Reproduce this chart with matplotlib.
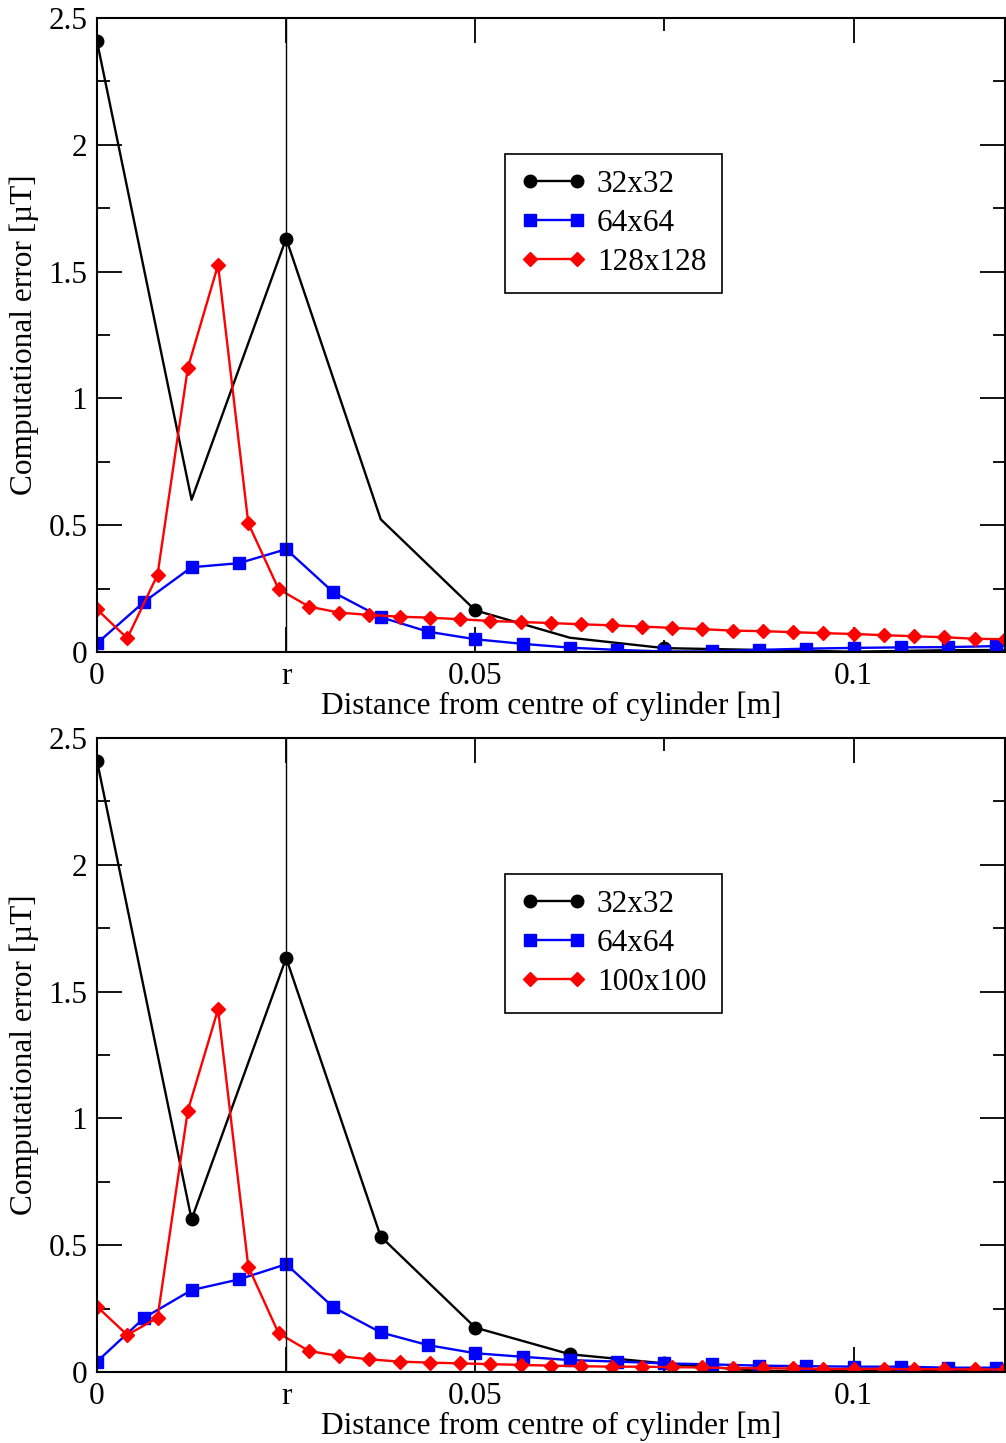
import numpy as np
import matplotlib
matplotlib.use('Agg')
import matplotlib.pyplot as plt
from matplotlib.ticker import MultipleLocator, FixedLocator, FuncFormatter

plt.rcParams['font.family'] = ['Liberation Serif', 'DejaVu Serif']

# 32x32 grid (spacing 0.0125 m)
x32 = [0.0, 0.0125, 0.025, 0.0375, 0.05, 0.0625, 0.075, 0.0875, 0.1, 0.1125, 0.125]
e32_top = [2.408, 0.60, 1.63, 0.523, 0.164, 0.056, 0.015, 0.008, 0.001, 0.007, 0.008]
e32_bot = [2.41, 0.602, 1.632, 0.534, 0.175, 0.070, 0.034, 0.004, 0.005, 0.003, 0.004]

# 64x64 grid (spacing 0.00625 m)
x64 = [0.0, 0.00625, 0.0125, 0.01875, 0.025, 0.03125, 0.0375, 0.04375, 0.05,
       0.05625, 0.0625, 0.06875, 0.075, 0.08125, 0.0875, 0.09375, 0.1,
       0.10625, 0.1125, 0.11875, 0.125]
e64_top = [0.034, 0.198, 0.334, 0.350, 0.405, 0.235, 0.137, 0.080, 0.050,
           0.032, 0.017, 0.008, 0.002, 0.002, 0.008, 0.013, 0.016,
           0.018, 0.019, 0.023, 0.026]
e64_bot = [0.041, 0.214, 0.323, 0.365, 0.425, 0.255, 0.156, 0.106, 0.074,
           0.060, 0.047, 0.041, 0.034, 0.030, 0.025, 0.023, 0.021,
           0.021, 0.017, 0.017, 0.016]

# fine grids (spacing 0.004 m)
xfine = [0.0, 0.004, 0.008, 0.012, 0.016, 0.020, 0.024, 0.028, 0.032, 0.036,
         0.040, 0.044, 0.048, 0.052, 0.056, 0.060, 0.064, 0.068, 0.072, 0.076,
         0.080, 0.084, 0.088, 0.092, 0.096, 0.100, 0.104, 0.108, 0.112, 0.116, 0.120]
e128 = [0.168, 0.054, 0.304, 1.119, 1.526, 0.507, 0.248, 0.179, 0.155, 0.146,
        0.139, 0.135, 0.129, 0.122, 0.118, 0.114, 0.109, 0.105, 0.100, 0.095,
        0.090, 0.084, 0.082, 0.078, 0.074, 0.071, 0.066, 0.062, 0.058, 0.052, 0.050]
e100 = [0.258, 0.146, 0.214, 1.03, 1.43, 0.415, 0.153, 0.083, 0.063, 0.050,
        0.041, 0.037, 0.034, 0.031, 0.028, 0.025, 0.023, 0.021, 0.021, 0.019,
        0.018, 0.015, 0.015, 0.014, 0.012, 0.012, 0.012, 0.011, 0.011, 0.010, 0.010]

r_cyl = 0.025
xtick_vals = [0.0, 0.025, 0.05, 0.1]
xtick_labs = ['0', 'r', '0.05', '0.1']
fs = 22.5

fig = plt.figure(figsize=(10.06, 14.43), dpi=100)
ax1 = fig.add_axes([0.0964, 0.5482, 0.9026, 0.4394])
ax2 = fig.add_axes([0.0964, 0.0492, 0.9026, 0.4394])

panels = [(ax1, e32_top, e64_top, e128, '128x128', 2),
          (ax2, e32_bot, e64_bot, e100, '100x100', 1)]

for ax, e32, e64, ef, flab, mev in panels:
    ax.plot(x32, e32, '-', color='k', lw=1.7, marker='o', ms=9,
            markevery=mev, label='32x32')
    ax.plot(x64, e64, '-', color='#0000ff', lw=1.7, marker='s', ms=8,
            label='64x64')
    ax.plot(xfine, ef, '-', color='#ff0000', lw=1.7, marker='D', ms=7,
            label=flab)
    ax.axvline(r_cyl, color='k', lw=1.0)

    ax.set_xlim(0, 0.12)
    ax.set_ylim(0, 2.5)
    ax.xaxis.set_major_locator(FixedLocator(xtick_vals))
    ax.set_xticklabels(xtick_labs)
    ax.xaxis.set_minor_locator(FixedLocator([0.075]))
    ax.yaxis.set_major_locator(MultipleLocator(0.5))
    ax.yaxis.set_minor_locator(MultipleLocator(0.25))
    ax.yaxis.set_major_formatter(FuncFormatter(lambda v, p: '%g' % v))
    ax.tick_params(which='both', direction='in', top=True, right=True,
                   labelsize=fs, width=1.3)
    ax.tick_params(which='major', length=18, pad=7)
    ax.tick_params(which='minor', length=9)
    for sp in ax.spines.values():
        sp.set_linewidth(1.5)

    ax.set_xlabel('Distance from centre of cylinder [m]', fontsize=fs)
    ax.set_ylabel('Computational error [µT]', fontsize=fs)
    ax.xaxis.set_label_coords(0.5, -0.062)
    ax.yaxis.set_label_coords(-0.064, 0.5)

    leg = ax.legend(loc='upper left', bbox_to_anchor=(0.449, 0.7855),
                    fontsize=fs, numpoints=2, handlelength=2.1,
                    handletextpad=0.35, labelspacing=0.33, borderpad=0.5,
                    borderaxespad=0, fancybox=False, framealpha=1)
    leg.get_frame().set_edgecolor('k')
    leg.get_frame().set_linewidth(1.2)

fig.savefig('out.png', dpi=100)
